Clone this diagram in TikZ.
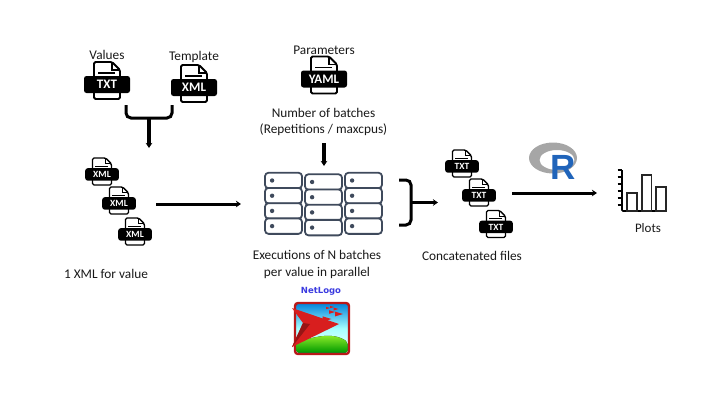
\documentclass[tikz,border=0pt]{standalone}
\usepackage{fontspec}
\setmainfont{Carlito}
\newfontfamily\logofont{DejaVu Sans}
\newfontfamily\rfont{Liberation Sans}
\usepackage{tikz}
\usetikzlibrary{arrows.meta, calc, positioning, shapes.geometric}
\definecolor{slate}{HTML}{3F4A5C}
\definecolor{nlblue}{HTML}{3B3BE0}
\definecolor{nlred}{HTML}{D81E1E}
\tikzset{
  lbl/.style    ={font=\fontsize{13.3}{16.5}\selectfont, align=center, inner sep=0pt, text=black!90},
  plbl/.style   ={font=\fontsize{13}{15}\selectfont, inner sep=0pt, text=black!90},
  page/.style   ={draw=black, fill=white, rounded corners=1.5pt},
  band/.style   ={fill=black, text=white, rounded corners=2.5pt, inner sep=0pt, minimum width=46pt, minimum height=17pt, font=\bfseries\fontsize{13}{15}\selectfont},
  flow/.style   ={-{Stealth[length=5pt,width=6.5pt]}, line width=3pt},
  brace/.style  ={line width=3pt, rounded corners=5pt},
  srv/.style    ={draw=slate, line width=1.8pt, rounded corners=3.5pt, fill=white, minimum width=37pt, minimum height=15.5pt, inner sep=0pt},
  srvdot/.style ={circle, fill=slate, minimum size=4.4pt, inner sep=0pt},
  bar/.style    ={draw=black!85, line width=1.5pt},
}
% #1 name, #2 centre, #3 label, #4 scale
\newcommand{\docicon}[4]{%
  \begin{scope}[shift={(#2)}, scale=#4]
    \draw[page, line width=1.9pt*#4] (-13,-18.5) -- (5,-18.5) -- (13,-10.5) -- (13,18.5) -- (-13,18.5) -- cycle;
    \draw[line width=1.1pt*#4] (5,-18.5) -- (5,-10.5) -- (13,-10.5);
    \draw[line width=1.1pt*#4] (-9,-7.5) -- (8,-7.5);
    \node[band, scale=#4] (#1) at (0,4) {#3};
  \end{scope}}
\begin{document}
\begin{tikzpicture}[x=1pt, y=-1pt]
  \useasboundingbox (0,0) rectangle (720,405);

  \docicon{values}{107,80.5}{TXT}{1}
  \docicon{template}{194,83.5}{XML}{1}
  \docicon{params}{324,75}{YAML}{1}
  \node[lbl, above=16pt of values] (valueslbl) {Values};
  \node[lbl, above=16pt of template] (templatelbl) {Template};
  \node[lbl, above=16pt of params] (paramslbl) {Parameters};
  \node[lbl] (batcheslbl) at (323.5,122) {Number of batches\\(Repetitions / maxcpus)};

  \docicon{xmla}{102,171.5}{XML}{0.73}
  \docicon{xmlb}{119,200.5}{XML}{0.73}
  \docicon{xmlc}{135,231.5}{XML}{0.73}
  \node[lbl] (xmllbl) at (106,274) {1 XML for value};

  \coordinate (ja) at (126,105);
  \coordinate (jb) at (172,105);
  \coordinate (jm) at (149,118);
  \coordinate (jend) at (149,148);
  \draw[brace] (ja) |- (jm) -| (jb);
  \draw[flow, line width=3.2pt] (jm) -- (jend);

  \coordinate (xmlout) at (156,204);
  \coordinate (xmlin) at (241,204);
  \draw[flow] (xmlout) -- (xmlin);

  \coordinate (parout) at (324,143);
  \coordinate (parin) at (324,166);
  \draw[flow, line width=3.2pt] (parout) -- (parin);

  % racks of batches
  \foreach \col/\x/\y in {a/283.5/180.5, b/323.5/182, c/363.5/180.5} {
    \foreach \row in {0,1,2,3} {
      \node[srv] (srv\col\row) at (\x,\y+\row*15.2) {};
      \node[srvdot] (dot\col\row) at ($(srv\col\row.west)+(8,0)$) {};
    }
  }
  \node[lbl] (execlbl) at (317,264.5) {Executions of N batches\\per value in parallel};

  \coordinate (ca) at (399,180);
  \coordinate (cb) at (399,225);
  \coordinate (cm) at (411,202.5);
  \coordinate (cend) at (438,202.5);
  \draw[brace] (ca) -| (cm) |- (cb);
  \draw[flow] (cm) -- (cend);

  \docicon{txta}{462,163.5}{TXT}{0.73}
  \docicon{txtb}{479,192.5}{TXT}{0.73}
  \docicon{txtc}{496,224}{TXT}{0.73}
  \node[lbl] (conclbl) at (472,256) {Concatenated files};

  \coordinate (txtout) at (512,193);
  \coordinate (plotin) at (597,193);
  \draw[flow] (txtout) -- (plotin);

  % R logo
  \fill[black!35, even odd rule] (553,158) ellipse [x radius=24, y radius=15.5]
    (557,160) ellipse [x radius=17.5, y radius=10];
  \node[inner sep=0pt, font=\rfont\bfseries\fontsize{35}{35}\selectfont, text={rgb,255:red,32;green,100;blue,186}] (rlogo) at (563,167) {R};

  % plot icon
  \draw[line width=1.6pt, rounded corners=1pt] (622,170) -- (622,211) -- (666,211);
  \foreach \ty in {170,177,184,191,198,205} {
    \draw[line width=1.3pt] (617.5,\ty) -- (622,\ty);
  }
  \draw[bar] (627,211) rectangle (637,193);
  \draw[bar] (642,211) rectangle (651.5,175);
  \draw[bar] (656,211) rectangle (666,187);
  \node[plbl] (plotlbl) at (648,228) {Plots};

  % NetLogo logo
  \node[inner sep=0pt, font=\logofont\bfseries\fontsize{8.5}{10}\selectfont, text=nlblue] (nllbl) at (321,291) {NetLogo};
  \draw[line width=2.4pt, draw=nlred!85!black, rounded corners=3pt, top color=blue!40!cyan!85!black, bottom color=white, middle color=cyan!35]
    (295,303) rectangle (349,354);
  \fill[rounded corners=2pt, top color=green!40!yellow!80, bottom color=green!60!black]
    (296.5,342) .. controls (312,338) and (332,331) .. (347.5,342) -- (347.5,352.5) -- (296.5,352.5) -- cycle;
  \fill[nlred] (292,308) -- (339,324) -- (292,347) -- (303,323) -- cycle;
  \fill[nlred!70!black] (292,347) -- (303,323) -- (310,324) -- cycle;
  \foreach \tx/\ty/\ts in {327/319/.9, 339/314/.8, 332/312/.6, 336/309/.5, 328/308/.4, 332/307/.4} {
    \fill[nlred] (\tx-5*\ts,\ty-3*\ts) -- (\tx+5*\ts,\ty) -- (\tx-5*\ts,\ty+3*\ts) -- cycle;
  }
\end{tikzpicture}
\end{document}
